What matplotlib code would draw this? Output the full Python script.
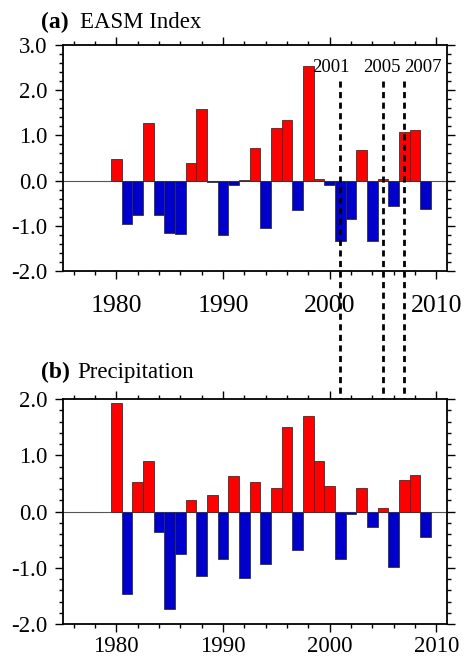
import matplotlib
matplotlib.use('Agg')
import matplotlib.pyplot as plt
import matplotlib.transforms as mtransforms
from matplotlib.ticker import MultipleLocator, FormatStrFormatter
import numpy as np

plt.rcParams['font.family'] = ['Liberation Serif', 'DejaVu Serif']

years = np.arange(1980, 2010)
easm = [0.47, -0.96, -0.77, 1.28, -0.76, -1.15, -1.18, 0.38, 1.59, -0.04,
        -1.21, -0.10, 0.02, 0.73, -1.04, 1.17, 1.33, -0.64, 2.53, 0.04,
        -0.09, -1.33, -0.85, 0.67, -1.33, 0.04, -0.56, 1.08, 1.11, -0.63]
precip = [1.93, -1.47, 0.53, 0.89, -0.37, -1.74, -0.76, 0.21, -1.15, 0.30,
          -0.84, 0.63, -1.19, 0.52, -0.93, 0.42, 1.51, -0.69, 1.69, 0.90,
          0.46, -0.85, -0.04, 0.42, -0.28, 0.07, -0.99, 0.56, 0.65, -0.46]
marked_years = [2001, 2005, 2007]
marked_label_x = [2000.1, 2004.85, 2008.75]

W, H = 465, 660
fig = plt.figure(figsize=(W / 100, H / 100), dpi=100)

# axes boxes in pixels: left, top, right, bottom
ax1 = fig.add_axes([63 / W, 1 - 271 / H, (447 - 63) / W, (271 - 45) / H])
ax2 = fig.add_axes([63 / W, 1 - 624 / H, (447 - 63) / W, (624 - 399) / H])


def style(ax, vals, ylim, xsize, xpad):
    colors = ['#FF0000' if v >= 0 else '#0000CC' for v in vals]
    ax.axhline(0, color='#555555', lw=0.8, zorder=1)
    ax.bar(years, vals, width=1.0, color=colors, edgecolor='#333333',
           linewidth=0.6, zorder=2)
    ax.set_xlim(1975, 2011)
    ax.set_ylim(*ylim)
    ax.xaxis.set_major_locator(MultipleLocator(10))
    ax.xaxis.set_minor_locator(MultipleLocator(2))
    ax.yaxis.set_major_locator(MultipleLocator(1))
    ax.yaxis.set_minor_locator(MultipleLocator(0.2))
    ax.yaxis.set_major_formatter(FormatStrFormatter('%.1f'))
    ax.tick_params(which='both', direction='out', top=True, right=True,
                   width=1.0, color='black')
    ax.tick_params(which='major', length=6)
    ax.tick_params(which='minor', length=3)
    ax.tick_params(axis='y', labelsize=16.5, pad=5)
    ax.tick_params(axis='x', labelsize=xsize, pad=xpad)
    for s in ax.spines.values():
        s.set_linewidth(1.3)


style(ax1, easm, (-2, 3), 18.5, 11)
style(ax2, precip, (-2, 2), 16.5, 3)

# titles
fig.text(41 / W, 1 - 28 / H, '(a)', fontsize=17, fontweight='bold')
fig.text(80 / W, 1 - 28 / H, 'EASM Index', fontsize=16.5)
fig.text(41 / W, 1 - 378 / H, '(b)', fontsize=17, fontweight='bold')
fig.text(77 / W, 1 - 378 / H, 'Precipitation', fontsize=16.5)

# dashed marker lines spanning both panels
trans = mtransforms.blended_transform_factory(ax1.transData, fig.transFigure)
for yr in marked_years:
    ax1.plot([yr, yr], [1 - 81 / H, 1 - 598 / H], transform=trans,
             color='black', lw=2.0, dashes=(2.2, 1.6), clip_on=False, zorder=5)
for yr, lx in zip(marked_years, marked_label_x):
    ax1.text(lx, 1 - 72 / H, str(yr), transform=trans, ha='center',
             va='baseline', fontsize=13.5)

fig.savefig('out.png', dpi=100)
